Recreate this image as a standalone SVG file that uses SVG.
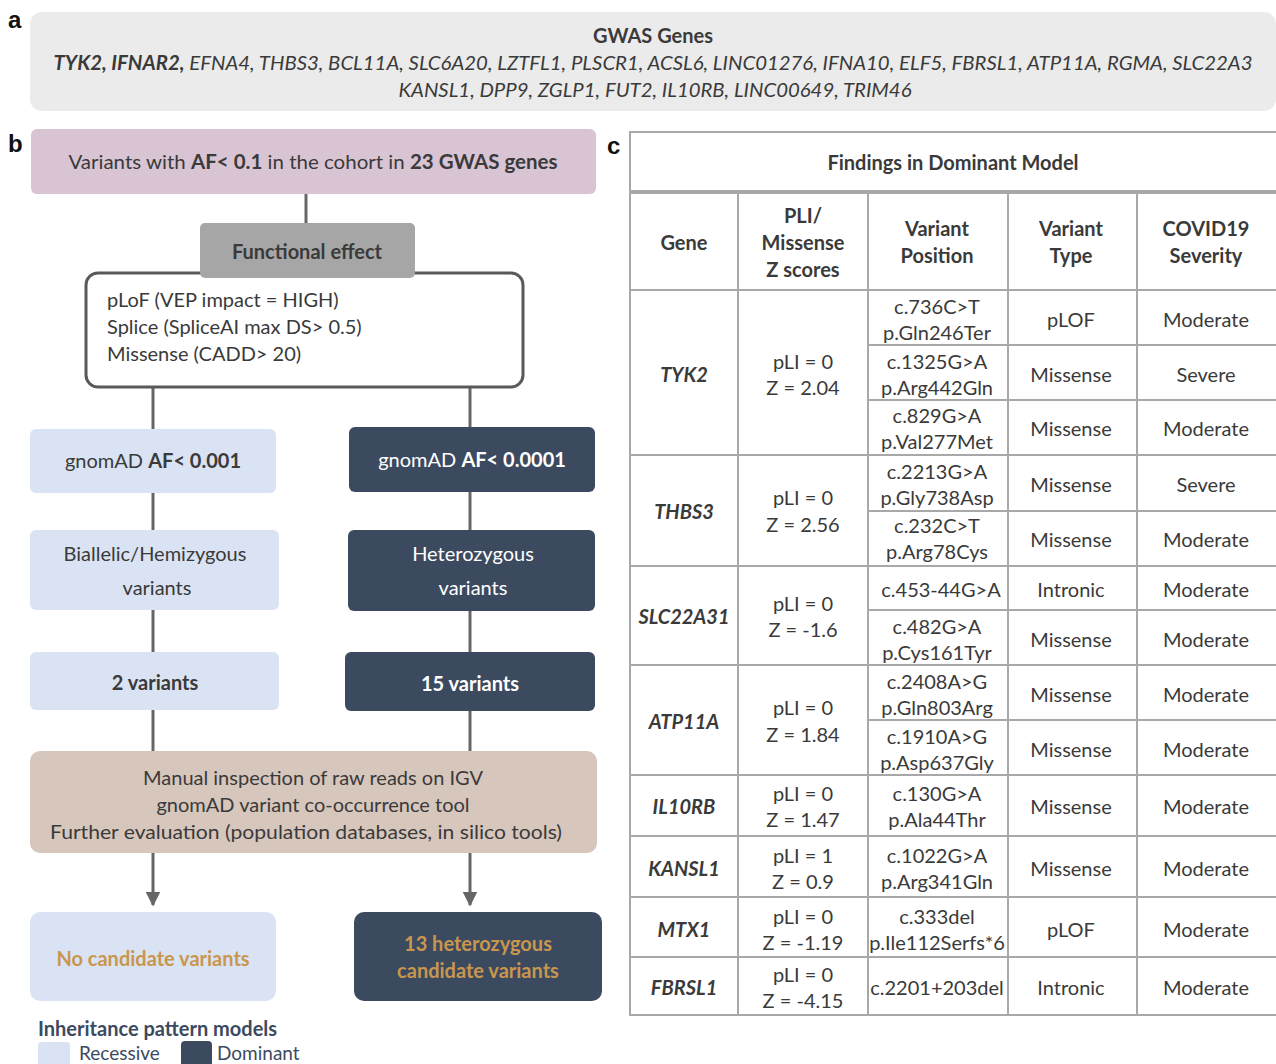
<svg xmlns="http://www.w3.org/2000/svg" width="1276" height="1064" viewBox="0 0 1276 1064">
<defs>
<style>
text{font-family:Lato,"Open Sans","Liberation Sans",sans-serif;font-size:20px;fill:#3a3a3a;dominant-baseline:central}
.c{text-anchor:middle}
.b{font-weight:bold}
.bi{font-weight:bold;font-style:italic}
.i{font-style:italic}
.lbl{font-family:"Liberation Sans",Arial,sans-serif;font-weight:bold;font-size:24px;fill:#111}
.w{fill:#ffffff}
.o{fill:#c9964e;font-weight:bold}
.light{fill:#dae3f3}
.dark{fill:#3c4a5f}
.conn{stroke:#666;stroke-width:3;fill:none}
.tl{stroke:#a8a8a8;stroke-width:2;fill:none}
.leg{fill:#3c4a5f}
</style>
<marker id="arr" viewBox="0 0 10 10" refX="9" refY="5" markerWidth="5" markerHeight="5" markerUnits="strokeWidth" orient="auto">
<path d="M0,0 L10,5 L0,10 z" fill="#666"/>
</marker>
</defs>
<rect width="1276" height="1064" fill="#fff"/>

<!-- panel labels -->
<text class="lbl" x="8" y="19">a</text>
<text class="lbl" x="8" y="143">b</text>
<text class="lbl" x="607" y="145">c</text>

<!-- panel a -->
<g id="gwas-genes">
<rect x="30" y="12" width="1246" height="99" rx="12" fill="#ebebeb"/>
<text class="c b" x="653" y="35">GWAS Genes</text>
<text class="c i" x="653" y="62" textLength="1199" lengthAdjust="spacingAndGlyphs"><tspan class="bi">TYK2, IFNAR2,</tspan> EFNA4, THBS3, BCL11A, SLC6A20, LZTFL1, PLSCR1, ACSL6, LINC01276, IFNA10, ELF5, FBRSL1, ATP11A, RGMA, SLC22A3</text>
<text class="c i" x="655" y="89" textLength="513" lengthAdjust="spacingAndGlyphs">KANSL1, DPP9, ZGLP1, FUT2, IL10RB, LINC00649, TRIM46</text>
</g>

<!-- connectors -->
<g id="connectors">
<line class="conn" x1="306" y1="194" x2="306" y2="224"/>
<line class="conn" x1="153" y1="388" x2="153" y2="430"/>
<line class="conn" x1="470" y1="388" x2="470" y2="428"/>
<line class="conn" x1="153" y1="493" x2="153" y2="531"/>
<line class="conn" x1="470" y1="492" x2="470" y2="531"/>
<line class="conn" x1="153" y1="610" x2="153" y2="653"/>
<line class="conn" x1="470" y1="611" x2="470" y2="653"/>
<line class="conn" x1="153" y1="710" x2="153" y2="752"/>
<line class="conn" x1="470" y1="711" x2="470" y2="752"/>
<line class="conn" x1="153" y1="853" x2="153" y2="905" marker-end="url(#arr)"/>
<line class="conn" x1="470" y1="853" x2="470" y2="905" marker-end="url(#arr)"/>
</g>

<!-- panel b nodes -->
<g id="node-start">
<rect x="31" y="129" width="565" height="65" rx="6" fill="#d9c4d3"/>
<text class="c" x="313" y="161" textLength="489" lengthAdjust="spacingAndGlyphs">Variants with <tspan class="b">AF&lt; 0.1</tspan> in the cohort in <tspan class="b">23 GWAS genes</tspan></text>
</g>
<g id="node-criteria">
<rect x="86" y="273" width="437" height="114" rx="12" fill="#fff" stroke="#595959" stroke-width="3"/>
<text x="107" y="299">pLoF (VEP impact = HIGH)</text>
<text x="107" y="326">Splice (SpliceAI max DS&gt; 0.5)</text>
<text x="107" y="353">Missense (CADD&gt; 20)</text>
</g>
<g id="node-functional">
<rect x="200" y="223" width="215" height="55" rx="5" fill="#a6a6a6"/>
<text class="c b" x="307" y="251">Functional effect</text>
</g>
<g id="node-af-rec">
<rect class="light" x="30" y="429" width="246" height="64" rx="6"/>
<text class="c" x="153" y="460">gnomAD <tspan class="b">AF&lt; 0.001</tspan></text>
</g>
<g id="node-af-dom">
<rect class="dark" x="349" y="427" width="246" height="65" rx="6"/>
<text class="c w" x="472" y="459">gnomAD <tspan class="b">AF&lt; 0.0001</tspan></text>
</g>
<g id="node-biallelic">
<rect class="light" x="30" y="530" width="249" height="80" rx="6"/>
<text class="c" x="155" y="553">Biallelic/Hemizygous</text>
<text class="c" x="157" y="587">variants</text>
</g>
<g id="node-hetero">
<rect class="dark" x="348" y="530" width="247" height="81" rx="6"/>
<text class="c w" x="473" y="553">Heterozygous</text>
<text class="c w" x="473" y="587">variants</text>
</g>
<g id="node-2var">
<rect class="light" x="30" y="652" width="249" height="58" rx="6"/>
<text class="c b" x="155" y="682">2 variants</text>
</g>
<g id="node-15var">
<rect class="dark" x="345" y="652" width="250" height="59" rx="6"/>
<text class="c b w" x="470" y="683">15 variants</text>
</g>
<g id="node-manual">
<rect x="30" y="751" width="567" height="102" rx="10" fill="#d6c6bc"/>
<text class="c" x="313" y="777">Manual inspection of raw reads on IGV</text>
<text class="c" x="313" y="804">gnomAD variant co-occurrence tool</text>
<text class="c" x="306" y="831" textLength="512" lengthAdjust="spacingAndGlyphs">Further evaluation (population databases, in silico tools)</text>
</g>
<g id="node-nocand">
<rect class="light" x="30" y="912" width="246" height="89" rx="10"/>
<text class="c o" x="153" y="958">No candidate variants</text>
</g>
<g id="node-13cand">
<rect class="dark" x="354" y="912" width="248" height="89" rx="10"/>
<text class="c o" x="478" y="943">13 heterozygous</text>
<text class="c o" x="478" y="970">candidate variants</text>
</g>

<!-- legend -->
<g id="legend">
<text class="b leg" x="38" y="1028">Inheritance pattern models</text>
<rect class="light" x="38" y="1042" width="32" height="30" rx="4"/>
<text class="leg" x="79" y="1052" style="font-size:19px">Recessive</text>
<rect class="dark" x="181" y="1041" width="31" height="30" rx="4"/>
<text class="leg" x="217" y="1052" style="font-size:19px">Dominant</text>
</g>

<!-- panel c table -->
<g id="table">
<rect class="tl" x="630" y="132" width="648" height="883"/>
<line x1="630" y1="192" x2="1276" y2="192" stroke="#a8a8a8" stroke-width="4"/>
<line class="tl" x1="738" y1="194" x2="738" y2="1015"/>
<line class="tl" x1="868" y1="194" x2="868" y2="1015"/>
<line class="tl" x1="1008" y1="194" x2="1008" y2="1015"/>
<line class="tl" x1="1137" y1="194" x2="1137" y2="1015"/>
<line class="tl" x1="630" y1="290" x2="1276" y2="290"/>
<line class="tl" x1="630" y1="455" x2="1276" y2="455"/>
<line class="tl" x1="630" y1="566" x2="1276" y2="566"/>
<line class="tl" x1="630" y1="665" x2="1276" y2="665"/>
<line class="tl" x1="630" y1="775" x2="1276" y2="775"/>
<line class="tl" x1="630" y1="836" x2="1276" y2="836"/>
<line class="tl" x1="630" y1="897" x2="1276" y2="897"/>
<line class="tl" x1="630" y1="957" x2="1276" y2="957"/>
<line class="tl" x1="868" y1="345" x2="1276" y2="345"/>
<line class="tl" x1="868" y1="400" x2="1276" y2="400"/>
<line class="tl" x1="868" y1="511" x2="1276" y2="511"/>
<line class="tl" x1="868" y1="610" x2="1276" y2="610"/>
<line class="tl" x1="868" y1="720" x2="1276" y2="720"/>

<text class="c b" x="953" y="162">Findings in Dominant Model</text>
<text class="c b" x="684" y="242">Gene</text>
<text class="c b" x="803" y="215">PLI/</text>
<text class="c b" x="803" y="242">Missense</text>
<text class="c b" x="803" y="269">Z scores</text>
<text class="c b" x="937" y="228">Variant</text>
<text class="c b" x="937" y="255">Position</text>
<text class="c b" x="1071" y="228">Variant</text>
<text class="c b" x="1071" y="255">Type</text>
<text class="c b" x="1206" y="228">COVID19</text>
<text class="c b" x="1206" y="255">Severity</text>

<!-- TYK2 -->
<text class="c bi" x="684" y="374">TYK2</text>
<text class="c" x="803" y="361">pLI = 0</text>
<text class="c" x="803" y="387">Z = 2.04</text>
<text class="c" x="937" y="306">c.736C&gt;T</text>
<text class="c" x="937" y="332">p.Gln246Ter</text>
<text class="c" x="1071" y="319">pLOF</text>
<text class="c" x="1206" y="319">Moderate</text>
<text class="c" x="937" y="361">c.1325G&gt;A</text>
<text class="c" x="937" y="387">p.Arg442Gln</text>
<text class="c" x="1071" y="374">Missense</text>
<text class="c" x="1206" y="374">Severe</text>
<text class="c" x="937" y="415">c.829G&gt;A</text>
<text class="c" x="937" y="441">p.Val277Met</text>
<text class="c" x="1071" y="428">Missense</text>
<text class="c" x="1206" y="428">Moderate</text>

<!-- THBS3 -->
<text class="c bi" x="684" y="511">THBS3</text>
<text class="c" x="803" y="497">pLI = 0</text>
<text class="c" x="803" y="524">Z = 2.56</text>
<text class="c" x="937" y="471">c.2213G&gt;A</text>
<text class="c" x="937" y="497">p.Gly738Asp</text>
<text class="c" x="1071" y="484">Missense</text>
<text class="c" x="1206" y="484">Severe</text>
<text class="c" x="937" y="525">c.232C&gt;T</text>
<text class="c" x="937" y="551">p.Arg78Cys</text>
<text class="c" x="1071" y="539">Missense</text>
<text class="c" x="1206" y="539">Moderate</text>

<!-- SLC22A31 -->
<text class="c bi" x="684" y="616">SLC22A31</text>
<text class="c" x="803" y="603">pLI = 0</text>
<text class="c" x="803" y="629">Z = -1.6</text>
<text class="c" x="941" y="589">c.453-44G&gt;A</text>
<text class="c" x="1071" y="589">Intronic</text>
<text class="c" x="1206" y="589">Moderate</text>
<text class="c" x="937" y="626">c.482G&gt;A</text>
<text class="c" x="937" y="652">p.Cys161Tyr</text>
<text class="c" x="1071" y="639">Missense</text>
<text class="c" x="1206" y="639">Moderate</text>

<!-- ATP11A -->
<text class="c bi" x="684" y="721">ATP11A</text>
<text class="c" x="803" y="707">pLI = 0</text>
<text class="c" x="803" y="734">Z = 1.84</text>
<text class="c" x="937" y="681">c.2408A&gt;G</text>
<text class="c" x="937" y="707">p.Gln803Arg</text>
<text class="c" x="1071" y="694">Missense</text>
<text class="c" x="1206" y="694">Moderate</text>
<text class="c" x="937" y="736">c.1910A&gt;G</text>
<text class="c" x="937" y="762">p.Asp637Gly</text>
<text class="c" x="1071" y="749">Missense</text>
<text class="c" x="1206" y="749">Moderate</text>

<!-- IL10RB -->
<text class="c bi" x="684" y="806">IL10RB</text>
<text class="c" x="803" y="793">pLI = 0</text>
<text class="c" x="803" y="819">Z = 1.47</text>
<text class="c" x="937" y="793">c.130G&gt;A</text>
<text class="c" x="937" y="819">p.Ala44Thr</text>
<text class="c" x="1071" y="806">Missense</text>
<text class="c" x="1206" y="806">Moderate</text>

<!-- KANSL1 -->
<text class="c bi" x="684" y="868">KANSL1</text>
<text class="c" x="803" y="855">pLI = 1</text>
<text class="c" x="803" y="881">Z = 0.9</text>
<text class="c" x="937" y="855">c.1022G&gt;A</text>
<text class="c" x="937" y="881">p.Arg341Gln</text>
<text class="c" x="1071" y="868">Missense</text>
<text class="c" x="1206" y="868">Moderate</text>

<!-- MTX1 -->
<text class="c bi" x="684" y="929">MTX1</text>
<text class="c" x="803" y="916">pLI = 0</text>
<text class="c" x="803" y="942">Z = -1.19</text>
<text class="c" x="937" y="916">c.333del</text>
<text class="c" x="937" y="942">p.Ile112Serfs*6</text>
<text class="c" x="1071" y="929">pLOF</text>
<text class="c" x="1206" y="929">Moderate</text>

<!-- FBRSL1 -->
<text class="c bi" x="684" y="987">FBRSL1</text>
<text class="c" x="803" y="974">pLI = 0</text>
<text class="c" x="803" y="1000">Z = -4.15</text>
<text class="c" x="937" y="987">c.2201+203del</text>
<text class="c" x="1071" y="987">Intronic</text>
<text class="c" x="1206" y="987">Moderate</text>
</g>
</svg>
